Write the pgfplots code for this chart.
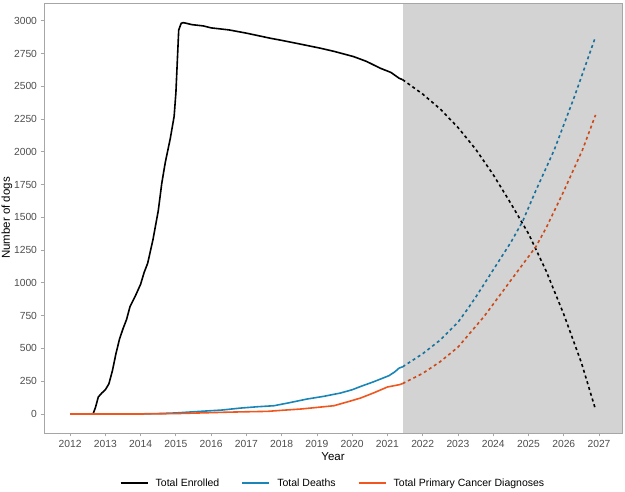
\documentclass[border=0pt]{standalone}
\usepackage{pgfplots}
\pgfplotsset{compat=1.18}
\usepackage{fontspec}
\setmainfont{Liberation Sans}
\definecolor{cblue}{HTML}{1A86B8}
\definecolor{corange}{HTML}{F0561E}
\definecolor{shadegray}{HTML}{D3D3D3}
\definecolor{framec}{HTML}{A6A6A6}
\definecolor{tickc}{HTML}{4D4D4D}
\begin{document}
\begin{tikzpicture}
\begin{axis}[
  name=ax,
  scale only axis,
  width=578pt, height=430pt,
  xmin=2011.26, xmax=2027.65,
  ymin=-145, ymax=3135,
  xtick={2012,...,2027},
  ytick={0,250,...,3000},
  /pgf/number format/1000 sep={},
  /pgf/number format/assume math mode=true,
  tick label style={font=\fontsize{10.3}{11}\selectfont, color=tickc},
  label style={font=\fontsize{11.5}{13}\selectfont},
  xlabel={Year}, ylabel={Number of dogs},
  xlabel style={yshift=2pt},
  ylabel style={yshift=-5pt},
  axis line style={framec, line width=0.8pt},
  tick style={framec, line width=0.8pt},
  tick align=outside,
  major tick length=3.5pt,
  xtick pos=bottom, ytick pos=left,
  axis on top,
  legend columns=3,
  legend style={at={(0.5,-0.097)}, anchor=north, draw=none, fill=none,
    font=\fontsize{10.5}{11}\selectfont,
    /tikz/every odd column/.append style={column sep=5pt},
    /tikz/every even column/.append style={column sep=20pt}},
  legend image code/.code={\draw[#1, line width=2pt] (0pt,0pt) -- (27pt,0pt);},
]
\fill[shadegray] (axis cs:2021.43,-145) rectangle (axis cs:2027.65,3135);
% Total Enrolled
\addplot[black, line width=1.6pt] coordinates {
(2012,0) (2012.65,0) (2012.72,50) (2012.8,130) (2012.9,160) (2013.0,185)
(2013.1,230) (2013.2,330) (2013.3,460) (2013.4,570) (2013.5,650) (2013.6,720)
(2013.7,820) (2013.85,900) (2014.0,990) (2014.1,1080) (2014.2,1150) (2014.35,1330)
(2014.5,1550) (2014.6,1760) (2014.7,1920) (2014.84,2100) (2014.95,2270) (2015.0,2450)
(2015.08,2929) (2015.15,2980) (2015.21,2985) (2015.3,2980) (2015.45,2970) (2015.78,2960)
(2016.0,2945) (2016.5,2930) (2017.0,2905) (2017.68,2866) (2018.0,2850) (2018.5,2823)
(2019.1,2790) (2019.5,2765) (2020.04,2726) (2020.4,2690) (2020.8,2637) (2021.1,2605)
(2021.33,2561) (2021.43,2550)};
\addlegendentry{Total Enrolled}
% Total Deaths
\addplot[cblue, line width=1.6pt] coordinates {
(2012,0) (2013,0) (2014,1) (2014.5,3) (2015,8) (2015.69,20) (2016.3,30) (2016.83,45)
(2017.3,55) (2017.78,63) (2018.2,85) (2018.72,114) (2019.2,135) (2019.67,160)
(2020.0,185) (2020.24,210) (2020.6,245) (2021.04,292) (2021.2,320) (2021.33,350) (2021.43,360)};
\addlegendentry{Total Deaths}
% Total Primary Cancer Diagnoses
\addplot[corange, line width=1.6pt] coordinates {
(2012,0) (2014,0) (2015,3) (2015.69,8) (2016.5,14) (2017.0,17) (2017.6,20) (2018.0,28)
(2018.55,38) (2019.0,50) (2019.48,63) (2019.9,95) (2020.24,122) (2020.6,160)
(2021.0,206) (2021.33,223) (2021.43,232)};
\addlegendentry{Total Primary Cancer Diagnoses}
% projections
\addplot[black, line width=1.6pt, dash pattern=on 3pt off 3pt] coordinates {
(2021.43,2550) (2022.0,2440) (2022.5,2325) (2023.0,2185) (2023.5,2020) (2024.0,1825)
(2024.5,1605) (2025.0,1375) (2025.5,1090) (2026.0,760) (2026.5,390) (2026.9,33)};
\addplot[cblue!85!black, line width=1.6pt, dash pattern=on 3pt off 3pt] coordinates {
(2021.43,360) (2022.0,460) (2022.5,565) (2023.0,700) (2023.27,800) (2023.5,890)
(2024.0,1100) (2024.5,1310) (2024.83,1468) (2025.2,1700) (2025.73,2015) (2026.3,2420) (2026.9,2878)};
\addplot[corange!85!black, line width=1.6pt, dash pattern=on 3pt off 3pt] coordinates {
(2021.43,232) (2022.0,310) (2022.5,400) (2023.0,510) (2023.74,744) (2024.5,1020)
(2025.21,1277) (2025.5,1420) (2026.0,1700) (2026.53,2015) (2026.9,2281)};
\end{axis}
\pgfresetboundingbox
\path (-44pt,-59pt) rectangle (581pt,433pt);
\end{tikzpicture}
\end{document}
